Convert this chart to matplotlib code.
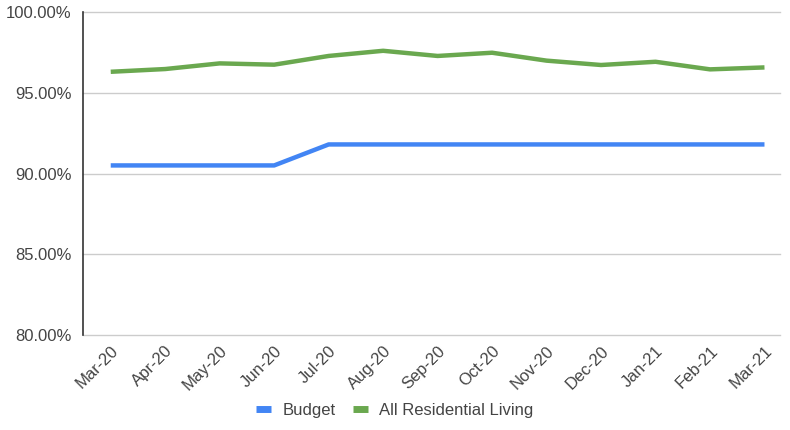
import matplotlib
matplotlib.use("Agg")
import matplotlib.pyplot as plt
from matplotlib.ticker import FuncFormatter

plt.rcParams['font.family'] = ['Liberation Sans', 'DejaVu Sans']

months = ["Mar-20", "Apr-20", "May-20", "Jun-20", "Jul-20", "Aug-20", "Sep-20",
          "Oct-20", "Nov-20", "Dec-20", "Jan-21", "Feb-21", "Mar-21"]
budget = [90.5, 90.5, 90.5, 90.5, 91.8, 91.8, 91.8, 91.8, 91.8, 91.8, 91.8, 91.8, 91.8]
residential = [96.30, 96.47, 96.82, 96.74, 97.28, 97.60, 97.28, 97.48, 96.99, 96.72, 96.92, 96.45, 96.57]
yticks = [80, 85, 90, 95, 100]

fig = plt.figure(figsize=(7.9, 4.3), dpi=100)
ax = fig.add_axes([0.105, 0.221, 0.882, 0.751])

x = list(range(len(months)))
ax.plot(x, budget, color="#4285F4", lw=3.2, label="Budget", solid_capstyle="butt")
ax.plot(x, residential, color="#6AA84F", lw=3.2, label="All Residential Living", solid_capstyle="butt")

ax.set_ylim(80, 100)
ax.set_xlim(-0.51, 12.28)
ax.set_yticks(yticks)
ax.yaxis.set_major_formatter(FuncFormatter(lambda v, p: f"{v:.2f}%"))
ax.set_xticks(x)
ax.set_xticklabels(months, rotation=45, ha="right", rotation_mode="anchor")
ax.tick_params(axis="both", length=0, labelsize=12, colors="#444444")
ax.tick_params(axis="x", pad=6)
ax.tick_params(axis="y", pad=8)
ax.grid(axis="y", color="#cccccc", lw=1)
for gl in ax.get_ygridlines():
    gl.set_clip_on(False)
ax.set_axisbelow(True)
for s in ["top", "right", "bottom"]:
    ax.spines[s].set_visible(False)
ax.spines["left"].set_color("#333333")
ax.spines["left"].set_linewidth(1.2)

leg = fig.legend(loc="center", bbox_to_anchor=(0.5, 0.045), ncol=2, frameon=False,
                 fontsize=12, handlelength=0.9, handletextpad=0.7, columnspacing=1.0)
for t in leg.get_texts():
    t.set_color("#444444")
for h in leg.get_lines():
    h.set_linewidth(5)

fig.savefig("out.png", dpi=100)
